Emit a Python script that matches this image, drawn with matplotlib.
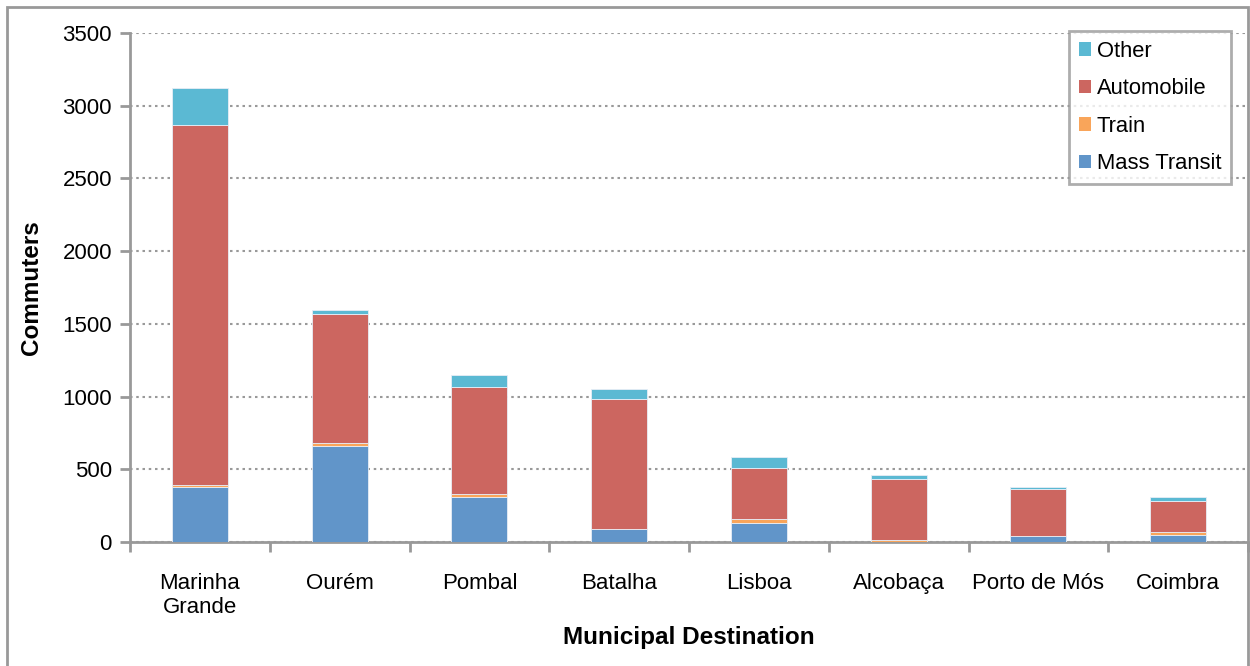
import numpy as np
import matplotlib
matplotlib.use('Agg')
import matplotlib.pyplot as plt
from matplotlib import patches

plt.rcParams['font.family'] = ['Liberation Sans', 'DejaVu Sans']

# data
destinations = ['Marinha\nGrande', 'Ourém', 'Pombal', 'Batalha', 'Lisboa',
                'Alcobaça', 'Porto de Mós', 'Coimbra']
mass_transit = [380, 663, 312, 87, 133, 2, 41, 48]
train = [15, 18, 18, 3, 23, 10, 2, 19]
automobile = [2475, 890, 739, 896, 355, 419, 319, 215]
other = [250, 25, 78, 64, 72, 30, 16, 28]

colors = {'Mass Transit': '#6195C9', 'Train': '#F9A55A',
          'Automobile': '#CC6660', 'Other': '#5BB9D3'}

fig = plt.figure(figsize=(12.5, 6.66), dpi=100)
ax = fig.add_axes([130/1250, 1-542/666, 1118/1250, 509/666])

x = np.arange(len(destinations))
w = 0.4
bottom = np.zeros(len(destinations))
series = [('Mass Transit', mass_transit), ('Train', train),
          ('Automobile', automobile), ('Other', other)]
handles = {}
for name, vals in series:
    vals = np.array(vals, dtype=float)
    b = ax.bar(x, vals, w, bottom=bottom, color=colors[name],
               edgecolor='#e8eef6', linewidth=0.6, label=name, zorder=3)
    handles[name] = b
    bottom += vals

ax.set_xlim(-0.5, len(destinations) - 0.5)
ax.set_ylim(0, 3500)
ax.set_yticks(np.arange(0, 3501, 500))
ax.yaxis.grid(True, linestyle=(0, (1.2, 1.8)), color='#999999', linewidth=1.5, zorder=0)
ax.set_axisbelow(True)

ax.set_xticks(x)
ax.set_xticklabels(destinations, fontsize=16)
ax.set_xticks(np.arange(-0.5, len(destinations)), minor=True)
ax.tick_params(axis='x', which='major', length=0, pad=22)
ax.tick_params(axis='x', which='minor', length=7, width=2, color='#999999')
ax.tick_params(axis='y', length=7, width=2, color='#999999', labelsize=16, pad=6)

for s in ['top', 'right']:
    ax.spines[s].set_visible(False)
for s in ['left', 'bottom']:
    ax.spines[s].set_color('#999999')
    ax.spines[s].set_linewidth(2)

ax.set_ylabel('Commuters', fontsize=17.5, fontweight='bold', labelpad=14)
ax.set_xlabel('Municipal Destination', fontsize=17.5, fontweight='bold', labelpad=6)

order = ['Other', 'Automobile', 'Train', 'Mass Transit']
leg = ax.legend([handles[n] for n in order], order, loc='upper right',
                bbox_to_anchor=(1101/1118, 1.004), fontsize=15.8, frameon=True,
                fancybox=False, handlelength=0.55, handleheight=0.55,
                handletextpad=0.25, labelspacing=0.75, borderpad=0.45,
                borderaxespad=0)
leg.get_frame().set_edgecolor('#999999')
leg.get_frame().set_linewidth(2)
for h in leg.legend_handles:
    h.set_edgecolor('none')

# outer chart border
fig.patches.append(patches.Rectangle((7/1250, -0.02), 1241/1250, 1.02 - 7/666,
                                     transform=fig.transFigure, fill=False,
                                     edgecolor='#999999', linewidth=2))

fig.savefig('out.png', dpi=100, facecolor='white')
